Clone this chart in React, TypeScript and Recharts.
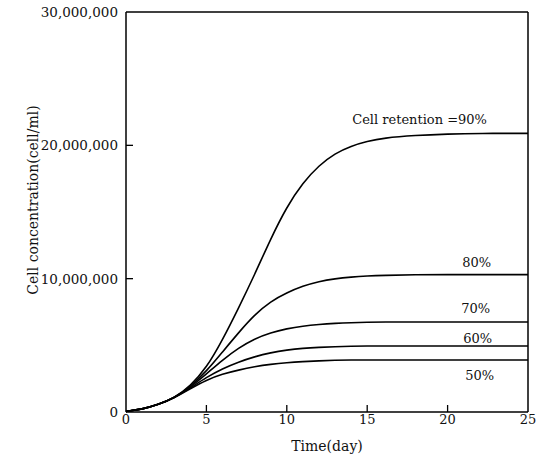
import React from 'react';
import { LineChart, Line, XAxis, YAxis, ReferenceLine } from 'recharts';

const days = [0, 1, 2, 3, 4, 5, 6, 7, 8, 9, 10, 11, 12, 13, 14, 15, 16, 18, 20, 22, 25];

// millions of cells / ml
const r90 = [0.05, 0.2, 0.55, 1.05, 1.95, 3.3, 5.4, 7.8, 10.3, 13.0, 15.4, 17.2, 18.5, 19.4, 19.95, 20.3, 20.55, 20.75, 20.85, 20.9, 20.9];
const r80 = [0.05, 0.2, 0.55, 1.05, 1.9, 3.05, 4.5, 5.95, 7.3, 8.3, 8.95, 9.45, 9.8, 10.0, 10.12, 10.2, 10.25, 10.3, 10.3, 10.3, 10.3];
const r70 = [0.05, 0.2, 0.55, 1.05, 1.85, 2.85, 3.9, 4.8, 5.5, 5.95, 6.25, 6.45, 6.57, 6.65, 6.7, 6.73, 6.75, 6.75, 6.75, 6.75, 6.75];
const r60 = [0.05, 0.2, 0.55, 1.05, 1.8, 2.6, 3.25, 3.75, 4.15, 4.45, 4.65, 4.78, 4.85, 4.9, 4.93, 4.95, 4.95, 4.95, 4.95, 4.95, 4.95];
const r50 = [0.05, 0.2, 0.55, 1.05, 1.75, 2.4, 2.85, 3.15, 3.4, 3.58, 3.7, 3.78, 3.84, 3.88, 3.9, 3.9, 3.9, 3.9, 3.9, 3.9, 3.9];

const xTicks = [0, 5, 10, 15, 20, 25];
const yTicks = [0, 10000000, 20000000, 30000000];

const series = [
  { key: 'r90', values: r90, label: 'Cell retention =90%', labelDay: 20, dx: -28, dy: -10 },
  { key: 'r80', values: r80, label: '80%', labelDay: 22, dx: -3, dy: -8 },
  { key: 'r70', values: r70, label: '70%', labelDay: 22, dx: -4, dy: -9 },
  { key: 'r60', values: r60, label: '60%', labelDay: 22, dx: -2, dy: -3 },
  { key: 'r50', values: r50, label: '50%', labelDay: 22, dx: 0, dy: 20 },
];

const data = days.map((d, i) => {
  const row: Record<string, number> = { day: d };
  series.forEach((s) => {
    row[s.key] = s.values[i] * 1000000;
  });
  return row;
});

const font = '"DejaVu Serif", "Liberation Serif", serif';

const fmt = (v: number) => v.toLocaleString('en-US');

const XTick = (props: any) => {
  const { x, y, payload } = props;
  const inner = payload.value !== 0 && payload.value !== 25;
  return (
    <g>
      {inner && <line x1={x} x2={x} y1={y - 8} y2={y - 15} stroke="#000" strokeWidth={1.3} />}
      <text x={x} y={y + 4} textAnchor="middle" fontFamily={font} fontSize={13} fill="#111">
        {payload.value}
      </text>
    </g>
  );
};

const YTick = (props: any) => {
  const { x, y, payload } = props;
  const inner = payload.value !== 0 && payload.value !== 30000000;
  return (
    <g>
      {inner && <line x1={x + 8} x2={x + 15} y1={y} y2={y} stroke="#000" strokeWidth={1.3} />}
      <text x={x} y={y + 5} textAnchor="end" fontFamily={font} fontSize={13.5} fill="#111">
        {fmt(payload.value)}
      </text>
    </g>
  );
};

const YLabel = (props: any) => {
  const vb = props.viewBox || {};
  const cx = 33;
  const cy = vb.y + vb.height / 2 - 12;
  return (
    <text
      x={cx}
      y={cy}
      transform={`rotate(-90 ${cx} ${cy})`}
      textAnchor="middle"
      dominantBaseline="central"
      fontFamily={font}
      fontSize={14}
      fill="#111"
    >
      Cell concentration(cell/ml)
    </text>
  );
};

export default function App() {
  return (
    <div style={{ position: 'absolute', left: 0, top: 0, background: '#fff' }}>
      <LineChart width={545} height={463} data={data} margin={{ top: 12, right: 17, bottom: 0, left: 0 }}>
        <XAxis
          dataKey="day"
          type="number"
          domain={[0, 25]}
          ticks={xTicks}
          tickLine={false}
          tick={<XTick />}
          axisLine={{ stroke: '#000', strokeWidth: 1.5 }}
          height={51}
          label={{ value: 'Time(day)', position: 'insideBottom', offset: 12, fontFamily: font, fontSize: 14, fill: '#111' }}
        />
        <YAxis
          type="number"
          domain={[0, 30000000]}
          ticks={yTicks}
          tickLine={false}
          tick={<YTick />}
          axisLine={{ stroke: '#000', strokeWidth: 1.5 }}
          width={126}
          label={{ content: <YLabel /> }}
        />
        <ReferenceLine y={30000000} stroke="#000" strokeWidth={1.5} />
        <ReferenceLine x={25} stroke="#000" strokeWidth={1.5} />
        {series.map((s) => (
          <Line
            key={s.key}
            dataKey={s.key}
            type="basis"
            stroke="#000"
            strokeWidth={1.6}
            dot={false}
            isAnimationActive={false}
            label={(p: any) => {
              if (days[p.index] !== s.labelDay) return <g key={`${s.key}-${p.index}`} />;
              return (
                <text
                  key={`${s.key}-${p.index}`}
                  x={p.x + s.dx}
                  y={p.y + s.dy}
                  textAnchor="middle"
                  fontFamily={font}
                  fontSize={13}
                  fill="#111"
                >
                  {s.label}
                </text>
              );
            }}
          />
        ))}
      </LineChart>
    </div>
  );
}
